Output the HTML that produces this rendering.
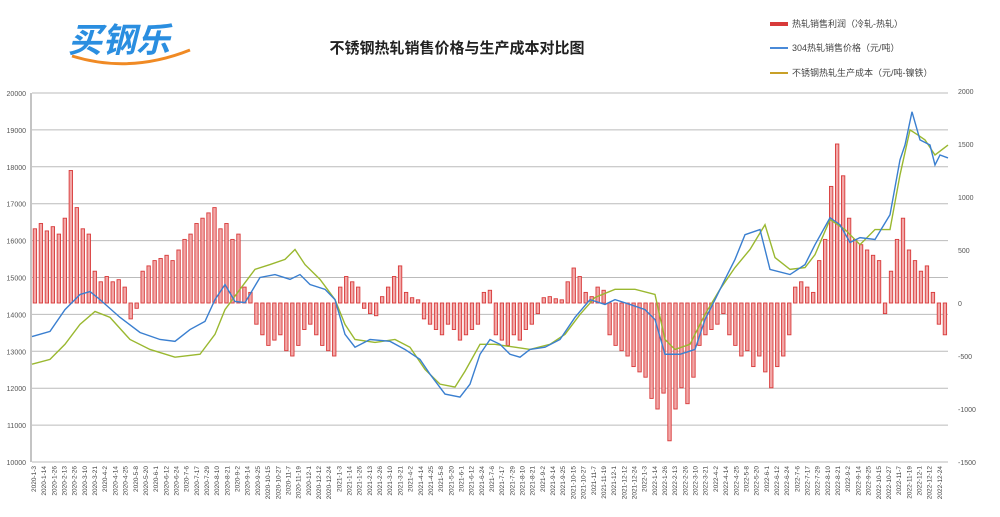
<!DOCTYPE html>
<html><head><meta charset="utf-8"><style>
body{margin:0;background:#fff;width:1000px;height:512px;overflow:hidden;font-family:"Liberation Sans","Noto Sans CJK SC",sans-serif}
</style></head><body>
<svg width="1000" height="512" viewBox="0 0 1000 512">
<rect width="1000" height="512" fill="#fff"/>
<g>
<text x="68" y="52" font-size="34" font-weight="bold" fill="#2a8ee0" font-family="'Noto Sans CJK SC',sans-serif" font-style="italic">买钢乐</text>
<path d="M72 56 Q130 74 190 50" stroke="#f08a24" stroke-width="3" fill="none"/>
</g>
<text x="457" y="53" text-anchor="middle" font-size="15" font-weight="bold" fill="#222">不锈钢热轧销售价格与生产成本对比图</text>
<g font-size="9" fill="#444">
<rect x="770" y="22" width="18" height="4" fill="#d83a3a"/><text x="792" y="27">热轧销售利润（冷轧-热轧）</text>
<rect x="770" y="47" width="18" height="2" fill="#4a8ad8"/><text x="792" y="51">304热轧销售价格（元/吨）</text>
<rect x="770" y="72" width="18" height="2" fill="#c8a028"/><text x="792" y="76">不锈钢热轧生产成本（元/吨-镍铁）</text>
</g>
<g id="grid"></g><g id="bars"></g><g id="lines"></g><g id="axes"></g>
</svg>
<script>
const leftTicks=[10000,11000,12000,13000,14000,15000,16000,17000,18000,19000,20000];
const rightTicks=[-1500,-1000,-500,0,500,1000,1500,2000];
const blueDay=[0,18,33,48,58,68,88,108,128,143,158,173,183,193,203,213,228,243,258,268,278,293,303,313,323,338,358,373,388,398,413,428,438,448,458,468,478,488,498,513,528,543,558,573,583,598,613,623,633,648,663,673,683,693,703,713,728,738,758,773,783,798,808,818,828,843,858,868,873,880,888,898,903,908,916];
const blueVal=[13400,13540,14130,14540,14620,14400,13920,13510,13320,13270,13590,13810,14400,14810,14350,14320,15000,15080,14950,15080,14810,14680,14400,13460,13110,13320,13270,13050,12780,12380,11840,11760,12110,12920,13320,13190,12920,12840,13050,13110,13320,13920,14400,14270,14400,14270,14130,13860,12920,12920,13050,13860,14400,14950,15490,16160,16300,15220,15080,15350,15890,16620,16430,15950,16080,16030,16700,18190,18590,19490,18730,18590,18050,18320,18240];
const greenDay=[0,18,33,48,63,78,98,118,143,168,183,193,208,223,238,253,263,273,288,303,313,323,343,363,378,393,408,423,433,448,463,483,498,518,533,548,563,583,603,623,633,643,658,673,688,703,718,733,743,758,773,783,798,813,828,843,858,868,878,886,893,903,916];
const greenVal=[12650,12780,13190,13730,14080,13920,13320,13050,12840,12920,13460,14130,14680,15220,15350,15490,15760,15350,14950,14400,13730,13320,13240,13320,13110,12510,12110,12030,12460,13190,13190,13110,13050,13190,13460,14000,14460,14680,14680,14540,13320,13050,13190,14000,14680,15270,15760,16430,15540,15220,15270,15620,16570,16300,15890,16300,16300,17780,19000,18860,18730,18320,18590];
const profit=[700,750,680,720,650,800,1250,900,700,650,300,200,250,200,220,150,-150,-50,300,350,400,420,450,400,500,600,650,750,800,850,900,700,750,600,650,150,100,-200,-300,-400,-350,-300,-450,-500,-400,-250,-200,-300,-400,-450,-500,150,250,200,150,-50,-100,-120,60,150,250,350,100,50,30,-150,-200,-250,-300,-200,-250,-350,-300,-250,-200,100,120,-300,-350,-400,-300,-350,-250,-200,-100,50,60,40,30,200,330,250,100,60,150,120,-300,-400,-450,-500,-600,-650,-700,-900,-1000,-850,-1300,-1000,-800,-950,-700,-400,-300,-250,-200,-100,-300,-400,-500,-450,-600,-500,-650,-800,-600,-500,-300,150,200,150,100,400,600,1100,1500,1200,800,600,550,500,450,400,-100,300,600,800,500,400,300,350,100,-200,-300];
const X0=32,X1=948,YT=93,YB=462,DAYS=916;
const xDay=d=>X0+d/DAYS*(X1-X0);
const yL=v=>YB-(v-10000)/10000*(YB-YT);
const yR=v=>303-v*(106/1000);
const NS='http://www.w3.org/2000/svg';
function mk(t,a,p){const e=document.createElementNS(NS,t);for(const k in a)e.setAttribute(k,a[k]);p.appendChild(e);return e;}
const grid=document.getElementById('grid'),axes=document.getElementById('axes');
leftTicks.forEach(v=>{const y=yL(v);
 const l=mk('line',{x1:X0,x2:X1,y1:y,y2:y,stroke:'#bbb','stroke-width':1},grid);
 
 
 const t=mk('text',{x:26,y:y+3,'font-size':7,'text-anchor':'end',fill:'#555'},axes);t.textContent=v;
 
 
});
rightTicks.forEach(v=>{const y=yR(v);
 const t=mk('text',{x:958,y:y+3,'font-size':7,fill:'#555'},axes);t.textContent=v;
 
 
});
const ax=mk('line',{x1:X0-1,x2:X0-1,y1:YT,y2:YB,stroke:'#888'},axes);


const bars=document.getElementById('bars');const step=(X1-X0)/profit.length;
profit.forEach((v,i)=>{const x=X0+i*step+1.2,y=yR(Math.max(v,0)),h=Math.abs(yR(v)-yR(0));
 const r=mk('rect',{x:x,y:y,width:step-2.6,height:h,fill:'#f2a8a8',stroke:'#d83a3a','stroke-width':0.9},bars);
 
 
});
const lines=document.getElementById('lines');
function line(days,vals,col,name){const p=mk('polyline',{points:days.map((d,i)=>xDay(d)+','+yL(vals[i])).join(' '),fill:'none',stroke:col,'stroke-width':1.4},lines);
 
 }
line(greenDay,greenVal,'#9ab830','cost-line');
line(blueDay,blueVal,'#3a7fd0','price-line');
const months=['1-3','1-14','1-26','2-13','2-26','3-10','3-21','4-2','4-14','4-25','5-8','5-20','6-1','6-12','6-24','7-6','7-17','7-29','8-10','8-21','9-2','9-14','9-25','10-15','10-27','11-7','11-19','12-1','12-12','12-24'];
const years=['2020','2021','2022'];
const xlabels=[];years.forEach(y=>months.forEach(m=>xlabels.push(y+'-'+m)));
const ls=(X1-X0)/xlabels.length;
xlabels.forEach((s,i)=>{const x=X0+4+i*ls;
 const t=mk('text',{x:0,y:0,'font-size':6.5,fill:'#444',transform:`translate(${x},466) rotate(-90)`,'text-anchor':'end'},axes);t.textContent=s;
 
 
});
</script>
</body></html>
